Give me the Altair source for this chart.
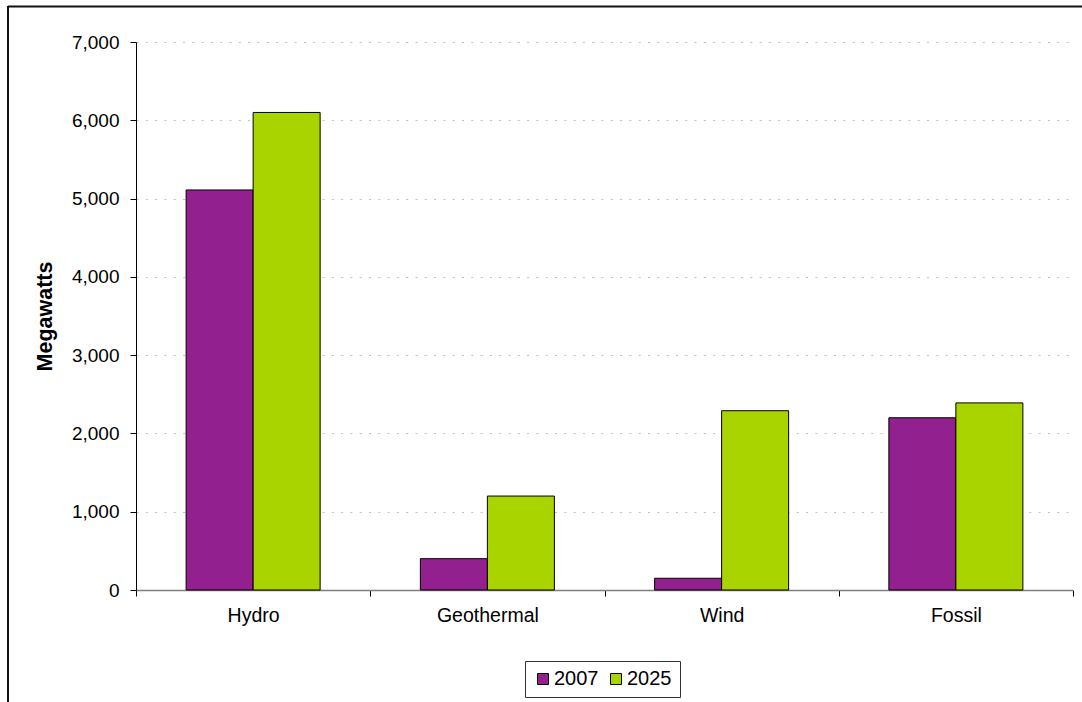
import altair as alt
import pandas as pd

categories = ["Hydro", "Geothermal", "Wind", "Fossil"]
years = ["2007", "2025"]
values_2007 = [5110, 400, 150, 2200]
values_2025 = [6100, 1200, 2290, 2390]
y_ticks = [0, 1000, 2000, 3000, 4000, 5000, 6000, 7000]
colors = ["#93208F", "#AAD400"]

rows = []
for c, a, b in zip(categories, values_2007, values_2025):
    rows.append({"Source": c, "Year": years[0], "MW": a})
    rows.append({"Source": c, "Year": years[1], "MW": b})
df = pd.DataFrame(rows)

FONT = "Liberation Sans"

bars = alt.Chart(df).mark_bar(stroke="black", strokeWidth=1).encode(
    x=alt.X("Source:N", sort=categories,
            scale=alt.Scale(paddingInner=0, paddingOuter=0),
            axis=alt.Axis(title=None, labelAngle=0, tickBand="extent",
                          tickSize=6, tickColor="black", domainColor="#808080",
                          domainWidth=1.5, labelFontSize=19.5, labelPadding=10,
                          labelColor="black", labelFont=FONT, grid=False)),
    xOffset=alt.XOffset("Year:N", sort=years,
                        scale=alt.Scale(paddingInner=0, paddingOuter=0.748)),
    y=alt.Y("MW:Q", scale=alt.Scale(domain=[0, 7000], nice=False),
            axis=alt.Axis(title="Megawatts", values=y_ticks, format=",d",
                          tickSize=6, tickColor="black", domainColor="black",
                          labelFontSize=19, labelPadding=11, labelColor="black",
                          labelFont=FONT, grid=True, gridColor="#c0c0c0",
                          gridDash=[2, 7.3], gridWidth=1.2,
                          titleFont=FONT, titleFontSize=21.5, titleFontWeight="bold",
                          titleColor="black", titleAngle=270, titleX=-91,
                          titleY=274, titleAlign="center", titleBaseline="middle")),
    color=alt.Color("Year:N", sort=years,
                    scale=alt.Scale(domain=years, range=colors),
                    legend=alt.Legend(title=None, orient="none", direction="horizontal",
                                      legendX=389, legendY=619,
                                      symbolType="square", symbolSize=121,
                                      symbolStrokeColor="black", symbolStrokeWidth=1,
                                      labelFontSize=20, labelFont=FONT, labelColor="black",
                                      labelOffset=1, columnPadding=7,
                                      strokeColor="#333333", padding=8,
                                      fillColor="white")),
)

frame = alt.Data(values=[{"k": 1}])
left_line = alt.Chart(frame).mark_rule(color="#111111", strokeWidth=2).encode(
    x=alt.value(-128), y=alt.value(-36), y2=alt.value(700))
top_line = alt.Chart(frame).mark_rule(color="#111111", strokeWidth=2).encode(
    x=alt.value(-128), x2=alt.value(960), y=alt.value(-35.5))

chart = alt.layer(bars, left_line, top_line).properties(
    width=937, height=548,
    autosize=alt.AutoSizeParams(type="none"),
    padding={"left": 136, "top": 42, "right": 9, "bottom": 112},
    background="white",
).configure_view(stroke=None)

chart.save("out.html", embed_options={"renderer": "svg", "actions": False})
